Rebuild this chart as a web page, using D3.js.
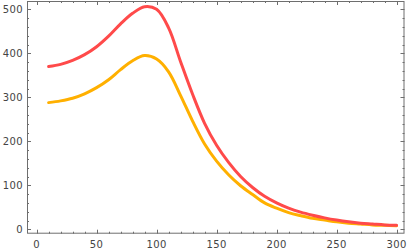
<!DOCTYPE html>
<html><head><meta charset="utf-8">
<script src="https://cdn.jsdelivr.net/npm/d3@7"></script>
<style>html,body{margin:0;padding:0;background:#fff;}svg{display:block;}</style>
</head><body>
<svg id="c" width="408" height="252"></svg>
<script>
const xs = [10,20,30,40,50,60,70,80,90,100,110,120,130,140,150,160,170,180,190,200,210,220,230,240,250,260,270,280,290,300];
const redValues = [370,375,384,397,415,439,467,491,506,500,458,381,307,241,191,152,120,95,75,60,48,39,32,26,21,17,14,12,10,9];
const orangeValues = [288,292,298,308,322,340,363,383,395,387,358,304,246,194,155,124,99,79,60,48,38,31,25,21,17,14,12,10,9,8];
const xTicks = [0,50,100,150,200,250,300];
const yTicks = [0,100,200,300,400,500];
const xMinor = d3.range(0,301,10);
const yMinor = d3.range(0,501,20);

const svg = d3.select("#c");
const x = d3.scaleLinear().domain([-8, 306.6]).range([27, 404.5]);
const y = d3.scaleLinear().domain([-10, 519]).range([233.7, 1]);

const line = d3.line().x(d => x(d[0])).y(d => y(d[1])).curve(d3.curveCatmullRom.alpha(0.5));
const series = [
  {vals: orangeValues, color: "#ffb000"},
  {vals: redValues, color: "#ff4a4a"}
];
series.forEach(s => {
  svg.append("path").datum(xs.map((v,i)=>[v, s.vals[i]]))
    .attr("d", line).attr("fill","none").attr("stroke", s.color)
    .attr("stroke-width", 3).attr("stroke-linejoin","round").attr("stroke-linecap","round");
});

const fc = "#6e6e6e";
const x0 = x.range()[0], x1 = x.range()[1], y0 = y.range()[0], y1 = y.range()[1];
svg.append("rect").attr("x", x0+0.5).attr("y", y1+0.5).attr("width", x1-x0-1).attr("height", y0-y1-1)
  .attr("fill","none").attr("stroke", fc).attr("stroke-width",1);

const g = svg.append("g").attr("stroke", fc).attr("stroke-width", 1);
function vt(xv, len){
  const px = Math.round(x(xv))+0.5;
  g.append("line").attr("x1",px).attr("x2",px).attr("y1",y0).attr("y2",y0-len);
  g.append("line").attr("x1",px).attr("x2",px).attr("y1",y1).attr("y2",y1+len);
}
function ht(yv, len){
  const py = Math.round(y(yv))+0.5;
  g.append("line").attr("y1",py).attr("y2",py).attr("x1",x0).attr("x2",x0+len);
  g.append("line").attr("y1",py).attr("y2",py).attr("x1",x1).attr("x2",x1-len);
}
xMinor.forEach(v => vt(v, xTicks.includes(v) ? 4 : 2));
yMinor.forEach(v => ht(v, yTicks.includes(v) ? 4 : 2));

const font = "'DejaVu Sans', sans-serif";
svg.append("g").selectAll("text").data(xTicks).join("text")
  .attr("x", d => x(d)).attr("y", 247.5).attr("text-anchor","middle")
  .attr("font-family", font).attr("font-size", 10).attr("letter-spacing", 0.4).attr("fill","#444")
  .text(d => d);
svg.append("g").selectAll("text").data(yTicks).join("text")
  .attr("x", 23).attr("y", d => y(d)+3.6).attr("text-anchor","end")
  .attr("font-family", font).attr("font-size", 10).attr("letter-spacing", 0.4).attr("fill","#444")
  .text(d => d);
</script>
</body></html>
